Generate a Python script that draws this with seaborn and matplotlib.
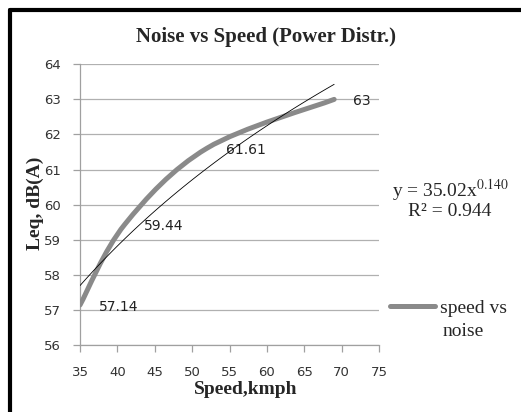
import numpy as np
import pandas as pd
import matplotlib
matplotlib.use("Agg")
import matplotlib.pyplot as plt
from matplotlib.lines import Line2D
from matplotlib.path import Path
from matplotlib.patches import PathPatch
import seaborn as sns

# values
speed = [35, 41, 52, 69]
noise = [57.14, 59.44, 61.61, 63.0]
point_labels = ["57.14", "59.44", "61.61", "63"]
x_ticks = [35, 40, 45, 50, 55, 60, 65, 70, 75]
y_ticks = [56, 57, 58, 59, 60, 61, 62, 63, 64]
equation = "y = 35.02x$^{0.140}$"
r_squared = "R² = 0.944"

df = pd.DataFrame({"speed": speed, "noise": noise})

sns.set_theme(style="white")
plt.rcParams["font.family"] = ["DejaVu Sans"]
plt.rcParams["mathtext.fontset"] = "stix"

fig = plt.figure(figsize=(5.21, 4.12), dpi=100)
ax = fig.add_axes([80 / 521, 1 - 345 / 412, 299 / 521, 280.7 / 412])

serif = ["Liberation Serif", "DejaVu Serif"]
line_grey = "#8a8a8a"

# smoothed line through the points (catmull-rom bezier, like excel's smoothing)
pts = df[["speed", "noise"]].to_numpy(dtype=float)
verts = [pts[0]]
codes = [Path.MOVETO]
n = len(pts)
for i in range(n - 1):
    p0 = pts[max(i - 1, 0)]
    p1 = pts[i]
    p2 = pts[i + 1]
    p3 = pts[min(i + 2, n - 1)]
    verts += [p1 + (p2 - p0) / 6, p2 - (p3 - p1) / 6, p2]
    codes += [Path.CURVE4] * 3
ax.add_patch(PathPatch(Path(verts, codes), fill=False, edgecolor=line_grey, lw=3.6,
                       capstyle="round", joinstyle="round", zorder=3))

# trendline
sns.regplot(data=df, x="speed", y="noise", logx=True, scatter=False, ci=None,
            truncate=True, ax=ax, line_kws={"color": "black", "lw": 0.6, "zorder": 4})

for sx, ny, lab in zip(speed, noise, point_labels):
    ax.annotate(lab, (sx, ny), xytext=(19, -2), textcoords="offset pixels",
                ha="left", va="center", fontsize=10, color="#222222")

ax.set_xlim(35, 75)
ax.set_ylim(56, 64)
ax.set_xticks(x_ticks)
ax.set_yticks(y_ticks)
ax.grid(axis="y", color="#b0b0b0", lw=0.9)
ax.set_axisbelow(True)
for s in ["top", "right"]:
    ax.spines[s].set_visible(False)
for s in ["left", "bottom"]:
    ax.spines[s].set_color("#a0a0a0")
    ax.spines[s].set_linewidth(0.9)
ax.tick_params(axis="both", direction="out", length=5, width=0.9, color="#a0a0a0",
               labelsize=9.5, labelcolor="#333333")
ax.tick_params(axis="y", left=True, pad=9)
ax.tick_params(axis="x", bottom=True, pad=10)

ax.set_xlabel("Speed,kmph", fontsize=14, fontweight="bold", family=serif)
ax.set_ylabel("Leq, dB(A)", fontsize=14, fontweight="bold", family=serif)
ax.xaxis.set_label_coords((246 - 80) / 299, (345 - 381) / 280.7)
ax.yaxis.set_label_coords((44 - 80) / 299, (345 - 203) / 280.7)
fig.text(266 / 521, 1 - 37 / 412, "Noise vs Speed (Power Distr.)", ha="center",
         va="center", fontsize=15, fontweight="bold", family=serif)

fig.text(450 / 521, 1 - 190 / 412, equation, ha="center", va="center",
         fontsize=14, family=serif)
fig.text(450 / 521, 1 - 212 / 412, r_squared, ha="center", va="center",
         fontsize=14, family=serif)

# legend: line sits level with the first text line
handle = Line2D([], [], color=line_grey, lw=3.6)
ax.legend([handle], ["speed vs"], loc="center left", bbox_to_anchor=(390 / 521, 1 - 308 / 412),
          bbox_transform=fig.transFigure, frameon=False, handlelength=2.3, handletextpad=0.25,
          borderpad=0, borderaxespad=0, prop={"family": serif, "size": 14})
fig.text(443 / 521, 1 - 331 / 412, "noise", ha="left", va="center", fontsize=14, family=serif)

# chart frame (top and left edges visible in the crop)
fig.add_artist(Line2D([10 / 521, 10 / 521], [0, 1 - 10 / 412], transform=fig.transFigure,
                      color="black", lw=3))
fig.add_artist(Line2D([10 / 521, 1], [1 - 10 / 412, 1 - 10 / 412], transform=fig.transFigure,
                      color="black", lw=3))

fig.savefig("out.png", dpi=100)
